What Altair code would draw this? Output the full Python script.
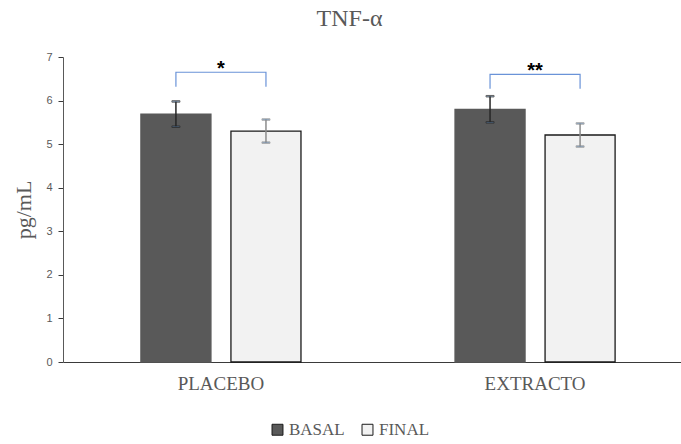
import altair as alt
import pandas as pd

groups = ["PLACEBO", "EXTRACTO"]
series = ["BASAL", "FINAL"]
basal_mean = [5.69, 5.80]
basal_err = [0.29, 0.30]
final_mean = [5.30, 5.21]
final_err = [0.265, 0.265]
bracket_low = [6.32, 6.27]
bracket_high = [6.65, 6.60]
stars = ["*", "**"]
star_y = [6.72, 6.67]

rows = []
for i, g in enumerate(groups):
    rows.append({"group": g, "series": "BASAL", "mean": basal_mean[i],
                 "lo": basal_mean[i] - basal_err[i], "hi": basal_mean[i] + basal_err[i]})
    rows.append({"group": g, "series": "FINAL", "mean": final_mean[i],
                 "lo": final_mean[i] - final_err[i], "hi": final_mean[i] + final_err[i]})
bars = pd.DataFrame(rows)

brows = []
for i, g in enumerate(groups):
    brows += [
        {"group": g, "series": "BASAL", "y": bracket_low[i], "k": 0},
        {"group": g, "series": "BASAL", "y": bracket_high[i], "k": 1},
        {"group": g, "series": "FINAL", "y": bracket_high[i], "k": 2},
        {"group": g, "series": "FINAL", "y": bracket_low[i], "k": 3},
    ]
brk = pd.DataFrame(brows)
st = pd.DataFrame({"group": groups, "text": stars, "y": star_y})

GRAY = "#595959"
SERIF = "Liberation Serif"
SANS = "Liberation Sans"

xs = alt.X("group:N", sort=groups,
           scale=alt.Scale(range=[0, 630], paddingInner=0.4904, paddingOuter=0.248),
           axis=alt.Axis(title=None, labelAngle=0, ticks=False, labelFont=SERIF,
                         labelFontSize=19, labelColor=GRAY, labelPadding=12,
                         domainColor="#3a3a3a", domainWidth=1.2))
xo = alt.XOffset("series:N", sort=series,
                 scale=alt.Scale(paddingInner=0.2222, paddingOuter=0))
ys = alt.Y("mean:Q", scale=alt.Scale(domain=[0, 7], nice=False),
           axis=alt.Axis(title="pg/mL", values=list(range(8)), grid=False,
                         tickSize=5, tickColor="#3a3a3a", domainColor=GRAY,
                         labelFont=SANS, labelFontSize=11, labelColor=GRAY,
                         labelPadding=6, titleFont=SERIF, titleFontSize=22,
                         titleFontWeight="normal", titleColor=GRAY, titlePadding=10))

base = alt.Chart(bars)
bar_layer = base.mark_bar(strokeWidth=1.3).encode(
    x=xs, xOffset=xo, y=ys,
    color=alt.Color("series:N", sort=series,
                    scale=alt.Scale(domain=series, range=[GRAY, "#F2F2F2"]),
                    legend=alt.Legend(title=None, orient="none", direction="horizontal",
                                      legendX=206, legendY=364, symbolType="square",
                                      symbolSize=120, labelFont=SERIF, labelFontSize=17,
                                      labelColor=GRAY, columnPadding=14, labelOffset=3,
                                      symbolStrokeColor="#1a1a1a", symbolStrokeWidth=1,
                                      symbolOpacity=1, padding=0)),
    stroke=alt.Stroke("series:N", sort=series,
                      scale=alt.Scale(domain=series, range=[GRAY, "#1a1a1a"]),
                      legend=None),
)

err_stroke = alt.Stroke("series:N", sort=series,
                        scale=alt.Scale(domain=series, range=["#262626", "#8c8c8c"]),
                        legend=None)
err_base = base.encode(
    x=alt.X("group:N", sort=groups), xOffset=alt.XOffset("series:N", sort=series),
    stroke=err_stroke,
)
err_rule = err_base.mark_rule(strokeWidth=1.5).encode(y="lo:Q", y2="hi:Q")
cap_lo = err_base.mark_tick(thickness=1.5, size=8).encode(y="lo:Q")
cap_hi = err_base.mark_tick(thickness=1.5, size=8).encode(y="hi:Q")
errs = alt.layer(err_rule, cap_lo, cap_hi)

bracket = alt.Chart(brk).mark_line(color="#6a93d8", strokeWidth=1.2).encode(
    x=alt.X("group:N", sort=groups), xOffset=alt.XOffset("series:N", sort=series),
    y="y:Q", detail="group:N", order="k:Q",
)

stars_layer = alt.Chart(st).mark_text(fontSize=20, fontWeight="bold", color="black",
                                      baseline="middle", font=SANS).encode(
    x=alt.X("group:N", sort=groups), y="y:Q", text="text:N",
)

chart = alt.layer(bar_layer, errs, bracket, stars_layer).resolve_scale(
    stroke="independent"
).properties(
    width=617, height=305,
    title=alt.TitleParams("TNF-α", font=SERIF, fontSize=24, fontWeight="normal",
                          color=GRAY, dx=-22, offset=20, anchor="middle"),
    autosize=alt.AutoSizeParams(type="none"),
    padding={"left": 63, "top": 57, "right": 1, "bottom": 82},
).configure_view(stroke=None)

chart.save("out.html", embed_options={"renderer": "svg", "actions": False})
